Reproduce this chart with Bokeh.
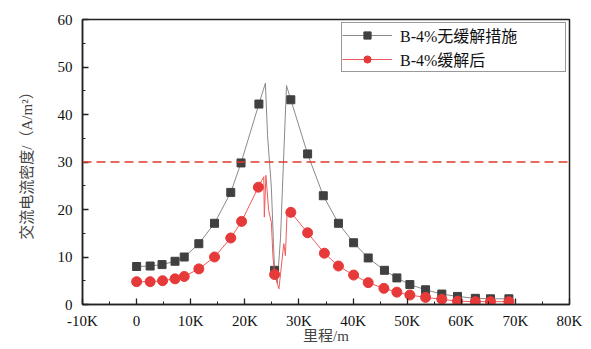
from bokeh.plotting import figure
from bokeh.models import (Range1d, SingleIntervalTicker, CustomJSTickFormatter,
                          Span, Legend, LegendItem)
from bokeh.embed import file_html
from bokeh.resources import INLINE

# ---- data (mileage in m, AC current density in A/m^2) ----
mark_x_a = [0, 2500, 4700, 7100, 8800, 11500, 14400, 17400, 19300, 22600, 25500,
            28500, 31600, 34500, 37300, 40100, 42800, 45800, 48100, 50500, 53400,
            56400, 59300, 62600, 65400, 68800]
mark_y_a = [8.0, 8.1, 8.4, 9.1, 10.0, 12.8, 17.1, 23.6, 29.8, 42.2, 7.2,
            43.1, 31.7, 22.9, 17.1, 13.0, 9.8, 7.2, 5.6, 4.2, 3.1,
            2.2, 1.7, 1.3, 1.2, 1.2]

line_x_a = [0, 2500, 4700, 7100, 8800, 11500, 14400, 17400, 19300, 22600, 23800,
            24200, 24900, 25300, 25500, 26000, 26600, 27200, 27700, 28500, 31600,
            34500, 37300, 40100, 42800, 45800, 48100, 50500, 53400, 56400, 59300,
            62600, 65400, 68800]
line_y_a = [8.0, 8.1, 8.4, 9.1, 10.0, 12.8, 17.1, 23.6, 29.8, 42.2, 46.6,
            35.6, 24.7, 12.8, 7.2, 4.5, 14.2, 31.7, 46.1, 43.1, 31.7,
            22.9, 17.1, 13.0, 9.8, 7.2, 5.6, 4.2, 3.1, 2.2, 1.7,
            1.3, 1.2, 1.2]

mark_x_b = [0, 2500, 4800, 7100, 8800, 11500, 14400, 17400, 19400, 22500, 25500,
            28500, 31600, 34700, 37300, 40100, 42800, 45700, 48100, 50500, 53400,
            56400, 59300, 62600, 65400, 68800]
mark_y_b = [4.8, 4.8, 5.0, 5.4, 5.9, 7.5, 10.0, 14.0, 17.5, 24.7, 6.3,
            19.4, 15.1, 10.8, 8.1, 6.2, 4.6, 3.4, 2.6, 2.0, 1.5,
            1.1, 0.7, 0.6, 0.6, 0.6]

line_x_b = [0, 2500, 4800, 7100, 8800, 11500, 14400, 17400, 19400, 22500, 23500,
            23600, 23900, 24400, 24900, 25200, 25500, 26300, 27200, 27500, 27800,
            28500, 31600, 34700, 37300, 40100, 42800, 45700, 48100, 50500, 53400,
            56400, 59300, 62600, 65400, 68800]
line_y_b = [4.8, 4.8, 5.0, 5.4, 5.9, 7.5, 10.0, 14.0, 17.5, 24.7, 26.9,
            18.4, 27.2, 19.8, 17.3, 10.0, 6.3, 3.3, 12.8, 10.3, 19.1,
            19.4, 15.1, 10.8, 8.1, 6.2, 4.6, 3.4, 2.6, 2.0, 1.5,
            1.1, 0.7, 0.6, 0.6, 0.6]

limit_value = 30
series_names = ["B-4%无缓解措施", "B-4%缓解后"]
x_title = "里程/m"
y_title = "交流电流密度/（A/m²）"

FONT = "'Liberation Serif', 'Noto Sans CJK SC'"

p = figure(width=591, height=349, output_backend="svg", toolbar_location=None,
           x_range=Range1d(-10000, 80000), y_range=Range1d(0, 60),
           min_border_left=82, min_border_right=22, min_border_top=19,
           min_border_bottom=45, background_fill_color="white",
           border_fill_color="white")
p.xgrid.visible = False
p.ygrid.visible = False
p.outline_line_color = "#222222"
p.outline_line_width = 1.5

p.xaxis.ticker = SingleIntervalTicker(interval=10000, num_minor_ticks=2)
p.xaxis.formatter = CustomJSTickFormatter(
    code="return tick == 0 ? '0' : (tick/1000).toFixed(0) + 'K';")
p.yaxis.ticker = SingleIntervalTicker(interval=10, num_minor_ticks=2)

for ax in (p.xaxis[0], p.yaxis[0]):
    ax.major_tick_in = 6
    ax.major_tick_out = 0
    ax.minor_tick_in = 3
    ax.minor_tick_out = 0
    ax.axis_line_width = 1.5
    ax.axis_line_color = "#222222"
    ax.major_tick_line_color = "#222222"
    ax.minor_tick_line_color = "#222222"
    ax.major_tick_line_width = 1.3
    ax.major_label_text_font = FONT
    ax.major_label_text_font_size = "15px"
    ax.major_label_text_color = "#111111"
    ax.axis_label_text_font = FONT
    ax.axis_label_text_font_size = "15px"
    ax.axis_label_text_font_style = "normal"
    ax.axis_label_text_color = "#444444"

p.xaxis.axis_label = x_title
p.yaxis.axis_label = y_title
p.xaxis.major_label_standoff = 8
p.xaxis.axis_label_standoff = -4
p.yaxis.major_label_standoff = 10
p.yaxis.axis_label_standoff = 20

lb = p.line(line_x_a, line_y_a, line_color="#8a8a8a", line_width=1)
mb = p.scatter(mark_x_a, mark_y_a, marker="square", size=8,
               fill_color="#404040", line_color="#404040")
lr = p.line(line_x_b, line_y_b, line_color="#f05a5a", line_width=1)
mr = p.scatter(mark_x_b, mark_y_b, marker="circle", size=10,
               fill_color="#e63a3a", line_color="#e63a3a")

p.add_layout(Span(location=limit_value, dimension="width", line_color="#e03a2a",
                  line_dash="9 5", line_width=1.3))

legend = Legend(items=[LegendItem(label=series_names[0], renderers=[lb, mb]),
                       LegendItem(label=series_names[1], renderers=[lr, mr])],
                location="top_right")
legend.label_text_font = FONT
legend.label_text_font_size = "16px"
legend.label_text_color = "#111111"
legend.label_text_line_height = 1.0
legend.glyph_width = 50
legend.glyph_height = 18
legend.label_height = 18
legend.label_standoff = 8
legend.label_width = 165
legend.padding = 0
legend.spacing = -6
legend.margin = 3
legend.border_line_color = "#333333"
legend.border_line_width = 1.5
legend.background_fill_color = "white"
legend.background_fill_alpha = 1
p.add_layout(legend)

open("out.html", "w").write(file_html(p, INLINE))
